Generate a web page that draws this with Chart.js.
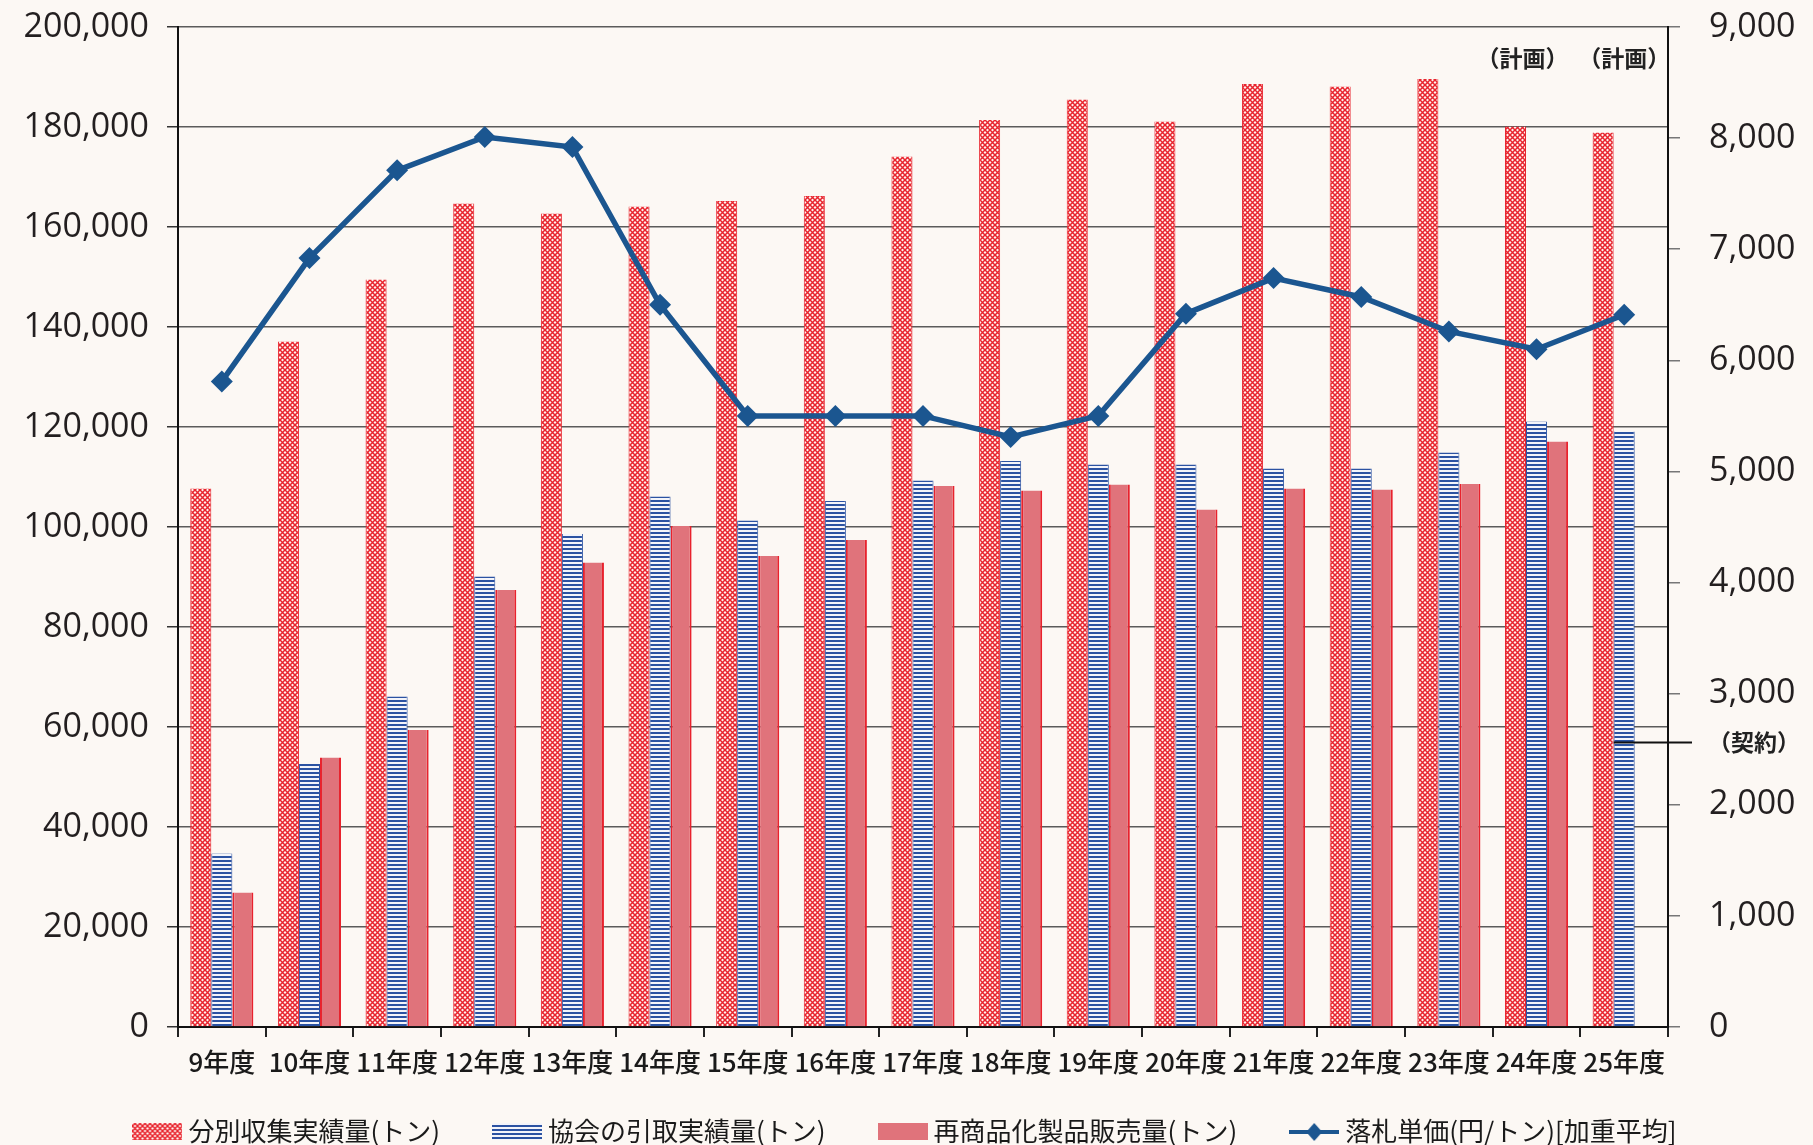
<!DOCTYPE html>
<html lang="ja">
<head>
<meta charset="utf-8">
<title>分別収集・引取・再商品化実績と落札単価</title>
<script src="https://cdn.jsdelivr.net/npm/chart.js@4.4.1/dist/chart.umd.min.js"></script>
<style>
  html, body { margin: 0; padding: 0; background: #fcf8f4; overflow: hidden; }
  #wrap { width: 1813px; height: 1145px; position: relative; }
</style>
</head>
<body>
<div id="wrap"><canvas id="recycleChart"></canvas></div>
<script>
// 年度
const nendo = ['9年度', '10年度', '11年度', '12年度', '13年度', '14年度', '15年度', '16年度', '17年度',
  '18年度', '19年度', '20年度', '21年度', '22年度', '23年度', '24年度', '25年度'];

// 分別収集実績量(トン)
const bunbetsu = [107700, 137100, 149500, 164700, 162700, 164100, 165200, 166200, 174100,
  181400, 185500, 181100, 188600, 188100, 189600, 180100, 178900];

// 協会の引取実績量(トン)
const hikitori = [34700, 52600, 66100, 90100, 98600, 106100, 101300, 105200, 109300,
  113200, 112500, 112500, 111700, 111700, 114900, 121100, 119100];

// 再商品化製品販売量(トン)  25年度はなし
const hanbai = [26900, 53900, 59400, 87400, 92900, 100200, 94200, 97400, 108200,
  107300, 108500, 103500, 107700, 107500, 108600, 117100, null];

// 落札単価(円/トン)[加重平均]
const rakusatsu = [5810, 6920, 7710, 8010, 7920, 6500, 5500, 5500, 5500,
  5310, 5500, 6420, 6740, 6570, 6260, 6100, 6410];

// 25年度 契約単価(円/トン)
const keiyaku = 2560;
const keikakuNendo = ['24年度', '25年度'];

const legendNames = ['分別収集実績量(トン)', '協会の引取実績量(トン)', '再商品化製品販売量(トン)', '落札単価(円/トン)[加重平均]'];

const jpFont = '"Noto Sans CJK JP", "Noto Sans", sans-serif';
const numFont = '"Open Sans", "Noto Sans", sans-serif';

function makeTile(w, h, draw) {
  const c = document.createElement('canvas');
  c.width = w; c.height = h;
  draw(c.getContext('2d'), w, h);
  return c;
}

const crossTile = makeTile(5, 5, (g, w, h) => {
  g.fillStyle = '#fff4ef';
  g.fillRect(0, 0, w, h);
  g.strokeStyle = '#e8242e';
  g.lineWidth = 1.5;
  g.beginPath();
  g.moveTo(-1, -1); g.lineTo(w + 1, h + 1);
  g.moveTo(w + 1, -1); g.lineTo(-1, h + 1);
  g.stroke();
});
const stripeTile = makeTile(4, 4, (g, w, h) => {
  g.fillStyle = '#f3f4fa';
  g.fillRect(0, 0, w, h);
  g.fillStyle = '#2b52a2';
  g.fillRect(0, 0, w, 2);
});

const pctx = document.createElement('canvas').getContext('2d');
const crossPattern = pctx.createPattern(crossTile, 'repeat');
const stripePattern = pctx.createPattern(stripeTile, 'repeat');

const pinkFill = '#e0737b';
const pinkEdge = '#e8222d';
const lineColor = '#1b5690';

// 凡例のアイコン
const legendIcons = [
  makeTile(50, 20, g => { g.fillStyle = g.createPattern(crossTile, 'repeat'); g.fillRect(0, 2, 50, 17); }),
  makeTile(50, 20, g => { g.fillStyle = g.createPattern(stripeTile, 'repeat'); g.fillRect(0, 2, 50, 17); }),
  makeTile(50, 20, g => { g.fillStyle = pinkFill; g.fillRect(0, 2, 50, 17); }),
  makeTile(50, 20, g => {
    g.strokeStyle = lineColor; g.lineWidth = 4;
    g.beginPath(); g.moveTo(0, 11); g.lineTo(50, 11); g.stroke();
    g.fillStyle = lineColor;
    g.beginPath(); g.moveTo(25, 2); g.lineTo(33, 11); g.lineTo(25, 20); g.lineTo(17, 11); g.closePath(); g.fill();
  })
];

const legendBottom = {
  id: 'legendBottom',
  afterDraw(chart) {
    const { ctx, width } = chart;
    ctx.save();
    ctx.font = '26px ' + jpFont;
    ctx.fillStyle = '#1a1a1a';
    ctx.textBaseline = 'middle';
    ctx.textAlign = 'left';
    const gap = 52, iconGap = 6, y = 1131;
    const widths = legendNames.map(t => 50 + iconGap + ctx.measureText(t).width);
    const total = widths.reduce((a, b) => a + b, 0) + gap * (widths.length - 1);
    let x = (width - total) / 2 - 2;
    legendNames.forEach((t, i) => {
      ctx.drawImage(legendIcons[i], x, y - 10);
      ctx.fillText(t, x + 50 + iconGap, y);
      x += widths[i] + gap;
    });
    ctx.restore();
  }
};

const notes = {
  id: 'notes',
  afterDatasetsDraw(chart) {
    const { ctx, chartArea, scales } = chart;
    ctx.save();
    ctx.fillStyle = '#222';
    ctx.font = 'bold 23px ' + jpFont;
    ctx.textAlign = 'center';
    ctx.textBaseline = 'middle';
    ctx.fillText('（計画）', scales.x.getPixelForValue(nendo.indexOf(keikakuNendo[0])) - 14, chartArea.top + 31);
    ctx.fillText('（計画）', scales.x.getPixelForValue(nendo.indexOf(keikakuNendo[1])), chartArea.top + 31);

    // 契約単価
    const bar = chart.getDatasetMeta(1).data[nendo.length - 1];
    const y = scales.y1.getPixelForValue(keiyaku);
    ctx.strokeStyle = '#111';
    ctx.lineWidth = 2;
    ctx.beginPath();
    ctx.moveTo(bar.x - bar.width / 2, y);
    ctx.lineTo(chartArea.right + 24, y);
    ctx.stroke();
    ctx.textAlign = 'left';
    ctx.fillText('（契約）', chartArea.right + 40, y);
    ctx.restore();
  }
};

const ctx = document.getElementById('recycleChart').getContext('2d');
new Chart(ctx, {
  type: 'bar',
  data: {
    labels: nendo,
    datasets: [
      {
        label: legendNames[0],
        data: bunbetsu,
        backgroundColor: crossPattern,
        borderColor: '#e8242e',
        borderWidth: { left: 1, right: 1, top: 0, bottom: 0 },
        yAxisID: 'y',
        order: 1
      },
      {
        label: legendNames[1],
        data: hikitori,
        backgroundColor: stripePattern,
        borderColor: '#2b52a2',
        borderWidth: { left: 1, right: 1, top: 0, bottom: 0 },
        yAxisID: 'y',
        order: 1
      },
      {
        label: legendNames[2],
        data: hanbai,
        backgroundColor: pinkFill,
        borderColor: pinkEdge,
        borderWidth: { left: 2, right: 2, top: 0, bottom: 0 },
        yAxisID: 'y',
        order: 1
      },
      {
        type: 'line',
        label: legendNames[3],
        data: rakusatsu,
        borderColor: lineColor,
        backgroundColor: lineColor,
        borderWidth: 5.5,
        pointStyle: 'rectRot',
        pointRadius: 11,
        pointBorderWidth: 0,
        tension: 0,
        yAxisID: 'y1',
        order: 0
      }
    ]
  },
  options: {
    responsive: true,
    maintainAspectRatio: false,
    animation: false,
    datasets: {
      bar: { categoryPercentage: 0.72, barPercentage: 1.0 }
    },
    layout: { padding: { top: 27, right: 0, bottom: 58, left: 0 } },
    plugins: {
      legend: { display: false },
      tooltip: { enabled: false }
    },
    scales: {
      x: {
        offset: true,
        grid: { drawOnChartArea: false, tickLength: 10, color: '#222', lineWidth: 2, offset: true },
        border: { color: '#111', width: 2 },
        ticks: { color: '#1a1a1a', padding: 10, maxRotation: 0, autoSkip: false, font: { family: jpFont, size: 26, weight: '500' } },
        afterFit: s => { s.height = 60; }
      },
      y: {
        position: 'left',
        min: 0,
        max: 200000,
        grid: { color: '#5b5b5b', lineWidth: 1.5, tickLength: 11, tickColor: '#333' },
        border: { color: '#111', width: 2 },
        ticks: {
          stepSize: 20000,
          padding: 18,
          color: '#231f20',
          font: { family: numFont, size: 34 },
          callback: v => v.toLocaleString('en-US')
        },
        afterFit: s => { s.width = 178; s.paddingTop = 0; s.paddingBottom = 0; }
      },
      y1: {
        position: 'right',
        min: 0,
        max: 9000,
        grid: { drawOnChartArea: false, tickLength: 12, color: '#777', lineWidth: 1.5 },
        border: { color: '#111', width: 2 },
        ticks: {
          stepSize: 1000,
          padding: 29,
          color: '#231f20',
          font: { family: numFont, size: 34 },
          callback: v => v.toLocaleString('en-US')
        },
        afterFit: s => { s.width = 145; s.paddingTop = 0; s.paddingBottom = 0; }
      }
    }
  },
  plugins: [notes, legendBottom]
});
</script>
</body>
</html>
